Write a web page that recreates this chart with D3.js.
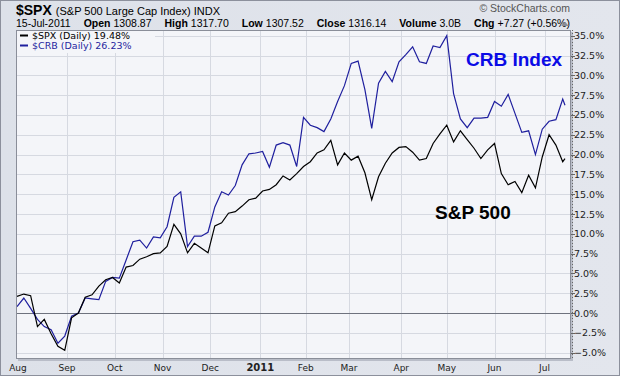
<!DOCTYPE html>
<html>
<head>
<meta charset="utf-8">
<script src="https://cdn.jsdelivr.net/npm/d3@7"></script>
<style>
  body { margin: 0; background: #fff; }
  svg { display: block; }
</style>
</head>
<body>
<svg></svg>
<script>
// market holidays between Aug 2010 and Jul 2011 (no trading)
const holidays = ["2010-09-06", "2010-11-25", "2010-12-24", "2011-01-17",
    "2011-02-21", "2011-04-22", "2011-05-30", "2011-07-04"];

// month labels on the x axis
const monthLabels = ["Aug", "Sep", "Oct", "Nov", "Dec", "2011", "Feb", "Mar", "Apr", "May", "Jun", "Jul"];

// y tick values (%)
const yTicks = [-5, -2.5, 0, 2.5, 5, 7.5, 10, 12.5, 15, 17.5, 20, 22.5, 25, 27.5, 30, 32.5, 35];

// percent change since Aug 2 2010, read every 3rd trading day (last = Jul 15 2011)
const spx = [2.1, 2.4, 2.2, -1.7, -0.8, -2.6, -4.2, -4.7, -0.6, 0.0,
    2.0, 2.3, 3.4, 4.2, 4.5, 3.8, 5.8, 6.0, 6.8, 7.1,
    7.5, 7.6, 8.4, 11.2, 10.0, 7.6, 8.8, 8.2, 7.6, 11.0,
    11.4, 12.6, 12.8, 13.5, 14.3, 14.5, 15.4, 15.6, 16.2, 17.3,
    16.8, 17.6, 18.5, 19.1, 20.2, 20.6, 21.8, 18.7, 20.2, 19.3,
    19.8, 17.7, 14.3, 17.2, 18.9, 20.2, 20.9, 21.0, 20.3, 19.3,
    19.5, 21.4, 22.6, 23.7, 21.6, 23.0, 21.9, 20.8, 19.5, 20.6,
    21.4, 17.6, 16.2, 16.6, 15.2, 17.4, 15.8, 19.7, 22.5, 21.2,
    19.1, 19.48];

const crb = [0.8, 1.9, 0.6, -0.8, -1.7, -2.1, -3.8, -2.9, -0.4, 0.0,
    1.9, 1.8, 1.7, 4.0, 4.5, 4.4, 6.7, 9.0, 9.2, 8.2,
    9.6, 9.5, 10.9, 14.6, 15.3, 8.4, 9.7, 9.7, 10.2, 13.4,
    15.3, 14.9, 16.1, 18.7, 20.1, 20.2, 20.4, 18.4, 21.2, 21.5,
    21.2, 18.5, 24.7, 23.7, 23.4, 22.9, 24.5, 26.7, 28.7, 31.5,
    31.8, 28.2, 23.3, 29.0, 30.5, 29.2, 31.7, 32.6, 33.6, 31.7,
    31.5, 33.7, 33.5, 35.0, 27.7, 24.5, 23.4, 24.6, 24.6, 24.7,
    26.7, 26.1, 27.6, 25.2, 22.8, 23.0, 20.0, 23.2, 24.2, 24.4,
    27.0, 26.23];

const width = 620;
const height = 376;

// plot frame
const pLeft = 16, pTop = 30, pRight = 571, pBottom = 359;

const fmtDay = d3.utcFormat("%Y-%m-%d");
const tradingDays = d3.utcDays(new Date(Date.UTC(2010, 7, 2)), new Date(Date.UTC(2011, 6, 16)))
    .filter(d => d.getUTCDay() % 6 !== 0 && !holidays.includes(fmtDay(d)));
const last = tradingDays.length - 1;

// sample positions (trading-day index) for the series
const sampleIdx = d3.range(0, last, 3).concat([last]);

// first trading day of each month
const monthStarts = tradingDays
    .map((d, i) => ({ d, i }))
    .filter((o, i, arr) => i === 0 || o.d.getUTCMonth() !== arr[i - 1].d.getUTCMonth());

const svg = d3.select('svg')
    .attr('width', width)
    .attr('height', height)
    .style('font-family', '"DejaVu Sans", Verdana, sans-serif');

// background
const bg = svg.append('defs').append('linearGradient')
    .attr('id', 'bg').attr('x1', 0).attr('y1', 0).attr('x2', 1).attr('y2', 0);
bg.append('stop').attr('offset', 0).attr('stop-color', '#dde1e9');
bg.append('stop').attr('offset', 1).attr('stop-color', '#e3e6ed');

svg.append('rect')
    .attr('x', 0.5).attr('y', 0.5)
    .attr('width', width - 1).attr('height', height - 1)
    .attr('fill', 'url(#bg)')
    .attr('stroke', '#8c909c');

// plot shadow + plot area
svg.append('rect')
    .attr('x', pLeft + 2).attr('y', pTop + 2)
    .attr('width', pRight - pLeft).attr('height', pBottom - pTop)
    .attr('fill', '#b9bdc8');
svg.append('rect')
    .attr('x', pLeft).attr('y', pTop)
    .attr('width', pRight - pLeft).attr('height', pBottom - pTop)
    .attr('fill', '#f4f5f9');

const xScale = d3.scaleLinear()
    .domain([0, last])
    .range([17, 565]);

const yScale = d3.scaleLinear()
    .domain([-5, 35])
    .range([352.7, 35.7]);

const chart = svg.append('g');

// horizontal grid
chart.append('g')
    .selectAll('line')
    .data(yTicks)
    .enter()
    .append('line')
    .attr('x1', pLeft).attr('x2', pRight)
    .attr('y1', d => Math.round(yScale(d)) + 0.5)
    .attr('y2', d => Math.round(yScale(d)) + 0.5)
    .attr('stroke', '#d6d9e1')
    .attr('stroke-width', 1);

// vertical grid at month starts
chart.append('g')
    .selectAll('line')
    .data(monthStarts.slice(1))
    .enter()
    .append('line')
    .attr('x1', d => Math.round(xScale(d.i)) + 0.5)
    .attr('x2', d => Math.round(xScale(d.i)) + 0.5)
    .attr('y1', pTop).attr('y2', pBottom)
    .attr('stroke', '#d6d9e1');

// zero line on top of the grid
chart.append('line')
    .attr('x1', pLeft).attr('x2', pRight)
    .attr('y1', Math.round(yScale(0)) + 0.5)
    .attr('y2', Math.round(yScale(0)) + 0.5)
    .attr('stroke', '#6e727e');

// series lines
const line = d3.line()
    .x((v, k) => xScale(sampleIdx[k]))
    .y(v => yScale(v));

chart.append('path')
    .datum(crb)
    .attr('d', line)
    .attr('fill', 'none')
    .attr('stroke', '#1f1f9e')
    .attr('stroke-width', 1.2);

chart.append('path')
    .datum(spx)
    .attr('d', line)
    .attr('fill', 'none')
    .attr('stroke', '#000')
    .attr('stroke-width', 1.2);

// plot border
svg.append('rect')
    .attr('x', pLeft + 0.5).attr('y', pTop + 0.5)
    .attr('width', pRight - pLeft - 1).attr('height', pBottom - pTop - 1)
    .attr('fill', 'none')
    .attr('stroke', '#8a8e99');

// right axis: dotted line, ticks and labels
svg.append('line')
    .attr('x1', pRight + 1.5).attr('x2', pRight + 1.5)
    .attr('y1', pTop).attr('y2', pBottom)
    .attr('stroke', '#666')
    .attr('stroke-dasharray', '1,2');

svg.append('g')
    .selectAll('line')
    .data(yTicks)
    .enter()
    .append('line')
    .attr('x1', pRight).attr('x2', pRight + 4)
    .attr('y1', d => Math.round(yScale(d)) + 0.5)
    .attr('y2', d => Math.round(yScale(d)) + 0.5)
    .attr('stroke', '#666');

svg.append('g')
    .selectAll('text')
    .data(yTicks)
    .enter()
    .append('text')
    .attr('x', 574)
    .attr('y', d => yScale(d) + 3.5)
    .attr('font-size', 9.5)
    .attr('fill', '#222')
    .text(d => d3.format('.1f')(d) + '%');

// month labels
svg.append('g')
    .selectAll('text')
    .data(monthStarts)
    .enter()
    .append('text')
    .attr('x', (d, i) => i === 0 ? xScale(d.i) + 1 : xScale(d.i))
    .attr('y', 371)
    .attr('text-anchor', 'middle')
    .attr('font-size', (d, i) => monthLabels[i] === '2011' ? 10 : 9)
    .attr('font-weight', (d, i) => monthLabels[i] === '2011' ? 'bold' : 'normal')
    .attr('fill', '#222')
    .text((d, i) => monthLabels[i]);

// legend
svg.append('rect')
    .attr('x', pLeft + 1).attr('y', pTop + 1)
    .attr('width', 138).attr('height', 22)
    .attr('fill', '#f4f5f9');

const legend = [
    { name: '$SPX (Daily) 19.48%', color: '#000' },
    { name: '$CRB (Daily) 26.23%', color: '#1f1f9e' }
];
legend.forEach((l, i) => {
    svg.append('line')
        .attr('x1', 20).attr('x2', 28)
        .attr('y1', 35.5 + i * 10).attr('y2', 35.5 + i * 10)
        .attr('stroke', l.color)
        .attr('stroke-width', 2);
    svg.append('text')
        .attr('x', 32)
        .attr('y', 39 + i * 10)
        .attr('font-size', 9.5)
        .attr('fill', l.color)
        .text(l.name);
});

// annotations
svg.append('text')
    .attr('x', 466).attr('y', 66)
    .attr('font-family', '"Liberation Sans", Arial, sans-serif')
    .attr('font-size', 19).attr('font-weight', 'bold')
    .attr('fill', '#0b0be6')
    .text('CRB Index');

svg.append('text')
    .attr('x', 435).attr('y', 219)
    .attr('font-family', '"Liberation Sans", Arial, sans-serif')
    .attr('font-size', 19).attr('font-weight', 'bold')
    .attr('fill', '#000')
    .text('S&P 500');

// header
const head = svg.append('g')
    .style('font-family', '"Liberation Sans", Arial, sans-serif')
    .attr('fill', '#000');

const title = head.append('text').attr('x', 16).attr('y', 15);
title.append('tspan').attr('font-size', 14).attr('font-weight', 'bold').text('$SPX');
title.append('tspan').attr('font-size', 11).attr('dx', 4).text('(S&P 500 Large Cap Index) INDX');

const quote = [
    ['', '15-Jul-2011'], ['Open', '1308.87'], ['High', '1317.70'], ['Low', '1307.52'],
    ['Close', '1316.14'], ['Volume', '3.0B'], ['Chg', '+7.27 (+0.56%)']
];
const qt = head.append('text').attr('x', 16).attr('y', 27).attr('font-size', 10.5);
quote.forEach((q, i) => {
    if (q[0]) {
        qt.append('tspan').attr('dx', 13).attr('font-weight', 'bold').text(q[0]);
        qt.append('tspan').attr('dx', 3).text(q[1]);
    } else {
        qt.append('tspan').text(q[1]);
    }
});

// small up triangle after the change
head.append('path')
    .attr('d', 'M561,26 L565,22 L569,26 Z')
    .attr('fill', '#8a8e99');

head.append('text')
    .attr('x', 570).attr('y', 12)
    .attr('text-anchor', 'end')
    .attr('font-size', 10.5)
    .attr('fill', '#555')
    .text('© StockCharts.com');
</script>
</body>
</html>
